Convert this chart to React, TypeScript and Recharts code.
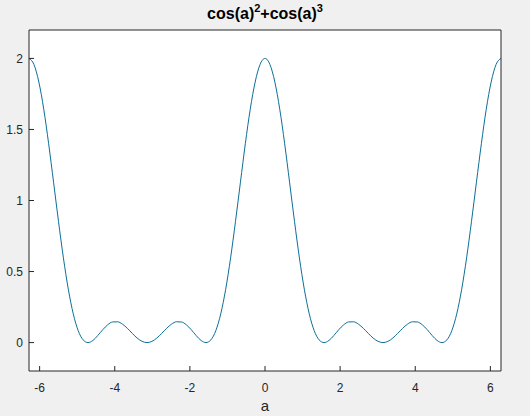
import { LineChart, Line, XAxis, YAxis, CartesianGrid } from 'recharts';

// a sampled every pi/24 from -2pi to 2pi
const aValues = [
  -6.283, -6.152, -6.021, -5.890, -5.760, -5.629, -5.498, -5.367, -5.236, -5.105,
  -4.974, -4.843, -4.712, -4.581, -4.451, -4.320, -4.189, -4.058, -3.927, -3.796,
  -3.665, -3.534, -3.403, -3.272, -3.142, -3.011, -2.880, -2.749, -2.618, -2.487,
  -2.356, -2.225, -2.094, -1.963, -1.833, -1.702, -1.571, -1.440, -1.309, -1.178,
  -1.047, -0.916, -0.785, -0.654, -0.524, -0.393, -0.262, -0.131, 0,
  0.131, 0.262, 0.393, 0.524, 0.654, 0.785, 0.916, 1.047, 1.178, 1.309,
  1.440, 1.571, 1.702, 1.833, 1.963, 2.094, 2.225, 2.356, 2.487, 2.618,
  2.749, 2.880, 3.011, 3.142, 3.272, 3.403, 3.534, 3.665, 3.796, 3.927,
  4.058, 4.189, 4.320, 4.451, 4.581, 4.712, 4.843, 4.974, 5.105, 5.236,
  5.367, 5.498, 5.629, 5.760, 5.890, 6.021, 6.152, 6.283,
];

const yValues = [
  2, 1.9575, 1.8342, 1.6421, 1.3995, 1.1288, 0.8536, 0.5962, 0.375, 0.2025,
  0.0843, 0.0193, 0, 0.0148, 0.0497, 0.0904, 0.125, 0.145, 0.1464, 0.1301,
  0.1005, 0.065, 0.0318, 0.0084, 0, 0.0084, 0.0318, 0.065, 0.1005, 0.1301,
  0.1464, 0.145, 0.125, 0.0904, 0.0497, 0.0148, 0, 0.0193, 0.0843, 0.2025,
  0.375, 0.5962, 0.8536, 1.1288, 1.3995, 1.6421, 1.8342, 1.9575, 2,
  1.9575, 1.8342, 1.6421, 1.3995, 1.1288, 0.8536, 0.5962, 0.375, 0.2025, 0.0843,
  0.0193, 0, 0.0148, 0.0497, 0.0904, 0.125, 0.145, 0.1464, 0.1301, 0.1005,
  0.065, 0.0318, 0.0084, 0, 0.0084, 0.0318, 0.065, 0.1005, 0.1301, 0.1464,
  0.145, 0.125, 0.0904, 0.0497, 0.0148, 0, 0.0193, 0.0843, 0.2025, 0.375,
  0.5962, 0.8536, 1.1288, 1.3995, 1.6421, 1.8342, 1.9575, 2,
];

const xTicks = [-6, -4, -2, 0, 2, 4, 6];
const yTicks = [0, 0.5, 1, 1.5, 2];

const data = aValues.map((a, i) => ({ a, y: yValues[i] }));

const axisColor = '#262626';
const font = 'Arial, "Liberation Sans", Helvetica, sans-serif';
const tickStyle = { fill: axisColor, fontSize: 12, fontFamily: font };
const supStyle = { fontSize: 11, verticalAlign: 'top', lineHeight: '11px' };

export default function App() {
  return (
    <div style={{ position: 'fixed', left: 0, top: 0, width: 530, height: 416, background: '#f0f0f0', fontFamily: font }}>
      <div style={{ position: 'absolute', left: 0, width: 530, top: 3, textAlign: 'center', fontSize: 16, fontWeight: 'bold', color: '#000', lineHeight: '22px' }}>
        cos(a)<sup style={supStyle}>2</sup>+cos(a)<sup style={supStyle}>3</sup>
      </div>
      <LineChart width={530} height={416} data={data} margin={{ top: 0, right: 0, bottom: 0, left: 0 }}>
        <CartesianGrid fill="#ffffff" horizontal={false} vertical={false} />
        <XAxis
          dataKey="a"
          type="number"
          domain={[-6.283, 6.283]}
          ticks={xTicks}
          allowDataOverflow
          height={45}
          stroke={axisColor}
          tick={tickStyle}
          tickSize={-5}
          tickMargin={17}
          label={{ value: 'a', position: 'insideBottom', offset: 5, fill: axisColor, fontSize: 15, fontFamily: font }}
        />
        <XAxis
          xAxisId="top"
          orientation="top"
          type="number"
          domain={[-6.283, 6.283]}
          ticks={xTicks}
          height={30}
          stroke={axisColor}
          tick={false}
          tickSize={-5}
        />
        <YAxis
          type="number"
          domain={[-0.2, 2.2]}
          ticks={yTicks}
          allowDataOverflow
          width={29}
          stroke={axisColor}
          tick={tickStyle}
          tickSize={-5}
          tickMargin={11}
        />
        <YAxis
          yAxisId="right"
          orientation="right"
          type="number"
          domain={[-0.2, 2.2]}
          ticks={yTicks}
          width={29}
          stroke={axisColor}
          tick={false}
          tickSize={-5}
        />
        <Line
          type="monotone"
          dataKey="y"
          stroke="#0b6f98"
          strokeWidth={1}
          dot={false}
          activeDot={false}
          isAnimationActive={false}
        />
      </LineChart>
    </div>
  );
}
